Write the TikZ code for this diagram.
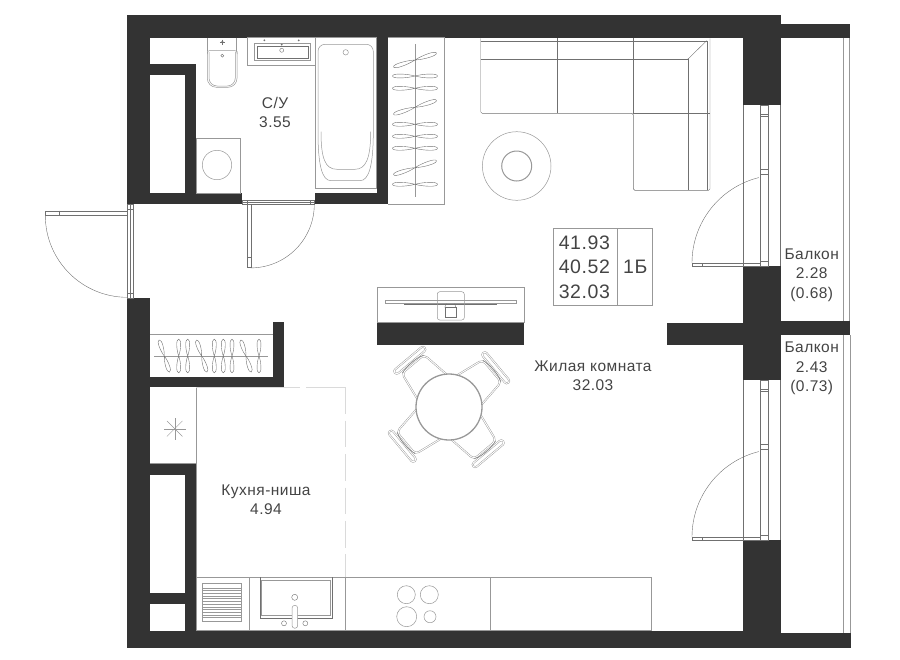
\documentclass[tikz,border=0pt]{standalone}
\usepackage{fontspec}
\setmainfont[LetterSpace=3]{Liberation Sans}
\definecolor{wallc}{HTML}{333333}
\definecolor{inkc}{HTML}{444444}
\definecolor{linec}{HTML}{989898}
\definecolor{darkc}{HTML}{707070}
\definecolor{paler}{HTML}{DADADA}
\tikzset{
    wall/.style={fill=wallc, draw=none},
    thin line/.style={draw=linec, line width=0.5pt},
    dark line/.style={draw=darkc, line width=0.4pt},
    label/.style={text=inkc, align=center, inner sep=0pt, font=\fontsize{15.5}{19.4}\selectfont},
    cell/.style={draw=linec, line width=0.5pt, minimum height=77.4, inner ysep=0pt, text=inkc, font=\fontsize{19.5}{24.4}\selectfont},
    seat/.style={draw=linec, line width=0.45pt, double=white, double distance=0.9pt, rounded corners=4pt},
    hanger/.pic={
        \draw[dark line] (-22.5,0) .. controls (-22.5,-3) and (-8,-2.2) .. (0,0) .. controls (8,2.2) and (22.5,3) .. (22.5,0)
            .. controls (22.5,-3) and (8,-2.2) .. (0,0) .. controls (-8,2.2) and (-22.5,3) .. (-22.5,0);
    }
}
\begin{document}
\begin{tikzpicture}[x=1pt,y=-1pt]
    \useasboundingbox (0,0) rectangle (900,659);
    % walls
    \path[wall] (127.3,14.7) rectangle (781.3,37.5);
    \path[wall] (781.3,24) rectangle (850,38.3);
    \path[wall] (127.3,14.7) rectangle (150,204.3);
    \path[wall] (127.3,297.7) rectangle (150,648.3);
    \path[wall] (127.3,630.7) rectangle (742.7,648.3);
    \path[wall] (742.7,633.3) rectangle (851,648.3);
    \path[wall] (742.7,37) rectangle (781.3,105);
    \path[wall] (742.7,266) rectangle (781.3,380);
    \path[wall] (742.7,540) rectangle (781,640);
    \path[wall] (667,322.7) rectangle (742.7,345.3);
    \path[wall] (781,320.5) rectangle (850,335.3);
    \path[wall] (377.3,322.3) rectangle (524.3,345);
    % inner walls
    \path[wall] (150,63.7) rectangle (196,75);
    \path[wall] (184.7,63.7) rectangle (196,204);
    \path[wall] (150,193) rectangle (242.3,204.3);
    \path[wall] (314.7,193) rectangle (387.7,204.3);
    \path[wall] (376.7,37) rectangle (387.7,204);
    \path[wall] (150,376.7) rectangle (284.3,387.3);
    \path[wall] (273.3,321.7) rectangle (284.3,387.3);
    \path[wall] (150,463.3) rectangle (196,475);
    \path[wall] (184.7,463.3) rectangle (196,631);
    \path[wall] (150,592.7) rectangle (196,604);
    % balcony rails
    \draw[thin line] (843.5,38) -- (843.5,320.5);
    \draw[thin line] (849.5,38) -- (849.5,320.5);
    \draw[thin line] (843.7,335) -- (843.7,633.3);
    \draw[thin line] (850,335) -- (850,633.3);
    % balcony doors
    \foreach \top/\bot in {105/266,380/540} {
        \draw[dark line] (742.7,\top) -- (742.7,\bot);
        \draw[dark line] (780.5,\top) -- (780.5,\bot);
        \draw[dark line] (760.3,\top) rectangle (768.5,\bot);
        \draw[dark line] (760.3,\bot-5) -- (768.5,\bot-5);
        \draw[dark line] (760.3,\top+9) -- (768.5,\top+9);
        \draw[dark line] (760.3,\top+11) -- (768.5,\top+11);
        \draw[dark line] (760.3,\top+64) -- (768.5,\top+64);
        \draw[dark line] (760.3,\top+69.5) -- (768.5,\top+69.5);
        \draw[dark line] (692,\bot-3) rectangle (760.3,\bot);
        \draw[dark line] (701.7,\bot-3) -- (701.7,\bot);
        \draw[dark line] (692,\bot-3) arc[start angle=180,end angle=104,radius=88pt];
    }
    % entry door
    \draw[dark line] (127.5,204.3) rectangle (132.7,297.7);
    \draw[dark line] (130,204.3) -- (130,297.7);
    \draw[dark line] (127.5,292.7) -- (132.7,292.7);
    \draw[dark line] (127.5,209) -- (132.7,209);
    \draw[dark line] (45.3,210.7) rectangle (127.5,215.3);
    \draw[dark line] (58.7,210.7) -- (58.7,215.3);
    \draw[dark line] (45.3,215.3) arc[start angle=180,end angle=270,radius=82pt];
    % bathroom door
    \draw[dark line] (242.5,200) rectangle (314.5,204.3);
    \draw[dark line] (242.5,202) -- (314.5,202);
    \draw[dark line] (247.3,200) -- (247.3,204.3);
    \draw[dark line] (310,200) -- (310,204.3);
    \draw[dark line] (247.3,204.3) rectangle (250.7,267.3);
    \draw[dark line] (247.3,257.3) -- (250.7,257.3);
    \draw[dark line] (314.3,204.3) arc[start angle=0,end angle=-90,radius=63.6pt];
    % bathroom
    \draw[thin line] (315,37.5) rectangle (376.7,188);
    \draw[thin line, rounded corners=7pt] (318,44.3) -- (318,125) .. controls (318,165) and (322,180.7) .. (338,180.7)
        -- (353,180.7) .. controls (369,180.7) and (373.3,165) .. (373.3,125) -- (373.3,44.3) -- cycle;
    \draw[thin line] (321,131.7) .. controls (321,158) and (325,169.3) .. (337,169.3) -- (355,169.3)
        .. controls (366,169.3) and (370.7,158) .. (370.7,131.7);
    \draw[thin line] (345.7,52.3) circle (2.7pt);
    \draw[thin line] (247.3,37.5) rectangle (315,65.7);
    \draw[thin line] (254,43.3) rectangle (310.7,60);
    \draw[dark line] (256.7,46) rectangle (308,58);
    \draw[dark line] (281.7,50.3) circle (2pt);
    \fill[darkc] (264.3,40.3) circle (1pt) (281.7,44.7) circle (1pt) (298.7,40.3) circle (1pt);
    \draw[thin line] (207.3,37.5) -- (207.3,51) (236.7,37.5) -- (236.7,51);
    \draw[thin line, rounded corners=9pt] (207.3,51) -- (207.3,87.3) -- (237,87.3) -- (237,51);
    \draw[thin line, rounded corners=8pt] (209,52) -- (209,86) -- (235.3,86) -- (235.3,52);
    \draw[thin line, rounded corners=2pt] (207.3,54) -- (207.3,50.7) -- (237,50.7) -- (237,54);
    \fill[darkc] (222.3,42) circle (1.3pt);
    \draw[darkc, line width=0.4pt] (219.8,42) -- (224.8,42) (222.3,39.5) -- (222.3,44.5);
    \draw[dark line] (222.3,55.7) circle (1.5pt);
    \draw[thin line] (196,138.3) rectangle (240.3,193);
    \draw[thin line] (217,165) circle (14.7pt);
    % wardrobes
    \draw[thin line] (387.7,37.5) -- (444.3,37.5) -- (444.3,204) -- (387.7,204);
    \draw[thin line] (415,44) -- (415,196.7);
    \foreach \posy/\tilt in {60/18,76/0,88.3/0,107.3/18,124.3/0,136.3/0,148.3/0,167.7/18,184.3/0} {
        \pic[rotate=\tilt] at (415,\posy) {hanger};
    }
    \draw[thin line] (150,334.3) -- (273.3,334.3);
    \draw[thin line] (154.3,356) -- (268.3,356);
    \foreach \posx/\tilt in {164.3/-72,178.7/90,187.7/90,201.7/-72,214.3/90,223.3/90,232/90,246/-72,259/90} {
        \pic[rotate=\tilt,xscale=0.75] at (\posx,356) {hanger};
    }
    % sofa
    \draw[dark line, rounded corners=1.5pt] (480.7,38.3) -- (480.7,113.3) -- (633.3,113.3) -- (633.3,190.3) -- (710,190.3) -- (710,38.3);
    \draw[dark line] (480.7,40.7) -- (706.7,40.7) -- (706.7,190.3);
    \draw[dark line] (480.7,59.3) -- (687.7,59.3) -- (687.7,190.3);
    \draw[dark line] (557.3,38.3) -- (557.3,113.3);
    \draw[dark line] (633.3,38.3) -- (633.3,113.3) -- (710,113.3);
    \draw[dark line] (687.7,59.3) -- (706.7,40.7);
    % pouf
    \draw[thin line] (516.7,166) circle (34.3pt);
    \draw[linec, line width=1pt] (516.7,166) circle (15pt);
    % tv
    \draw[thin line] (377.3,287.3) rectangle (524.3,322.3);
    \draw[thin line] (385.3,300.3) rectangle (516.7,303.7);
    \draw[dark line] (404,303.7) -- (497,303.7);
    \draw[thin line, rounded corners=2.5pt] (437.3,291.7) rectangle (464.3,320);
    \draw[dark line] (444.7,307.3) rectangle (456,317.3);
    \draw[dark line] (446.5,303.7) -- (444.7,307.3) (454.5,303.7) -- (456,307.3);
    % dining
    \foreach \a in {40,130,220,310} {
        \begin{scope}[shift={(449,407)},rotate=\a]
            \draw[seat] (27,-19) -- (56,-14.5) -- (56,14.5) -- (27,19);
            \draw[seat, rounded corners=2.4pt] (58.5,-19.5) rectangle (63.5,19.5);
            \draw[dark line] (56,-14) .. controls (59,-5) and (59,5) .. (56,14);
        \end{scope}
    }
    \draw[linec, line width=1.3pt, fill=white] (449,407) circle (33pt);
    % kitchen
    \draw[thin line] (196,387.3) -- (196,630.7);
    \draw[thin line] (150,463.3) -- (196,463.3);
    \draw[paler, line width=0.7pt] (196,387.3) -- (300,387.3) (306,387.3) -- (345.7,387.3);
    \draw[paler, line width=0.8pt, dash pattern=on 26.7pt off 6.7pt] (345.7,387.3) -- (345.7,577.3);
    \foreach \ang in {0,45,...,315} {
        \draw[linec, line width=0.4pt] (174.7,428.7) -- ++(\ang:11pt);
    }
    \draw[thin line] (196,577.3) rectangle (651.7,630.7);
    \draw[thin line] (249.3,577.3) -- (249.3,630.7);
    \draw[thin line] (345.7,577.3) -- (345.7,630.7);
    \draw[thin line] (490.3,577.3) -- (490.3,630.7);
    \draw[thin line] (202.3,583.3) rectangle (241.3,621.7);
    \foreach \i in {0,...,11} {
        \draw[linec, line width=0.7pt] (202.3,588+\i*2.7) -- (241.3,588+\i*2.7);
    }
    \draw[dark line] (259.7,577.3) -- (259.7,617.7) -- (331.7,617.7) -- (331.7,577.3);
    \draw[thin line] (261.7,580) rectangle (330,615);
    \draw[thin line, rounded corners=2.8pt, fill=white] (292,605.3) rectangle (297.7,628.3);
    \draw[dark line] (294.7,597.3) circle (3pt);
    \draw[dark line] (284,623.3) circle (2.5pt);
    \draw[dark line] (305.3,623.3) circle (2.5pt);
    \draw[thin line] (406.3,594.7) circle (9pt);
    \draw[thin line] (429.3,594.7) circle (9pt);
    \draw[thin line] (406.7,616.7) circle (10pt);
    \draw[thin line] (430,616.7) circle (6pt);
    % labels
    \node[label] (bath) at (275,112.5) {С/У\\3.55};
    \node[label] (kitchen) at (266,499.7) {Кухня-ниша\\4.94};
    \node[label] (room) at (593,376) {Жилая комната\\32.03};
    \node[label] (balcony1) at (811.7,275) {Балкон\\2.28\\(0.68)};
    \node[label] (balcony2) at (811.7,368.3) {Балкон\\2.43\\(0.73)};
    \node[cell, text width=53.4, inner xsep=5.5, align=left] (areas) at (585.5,267) {41.93\\40.52\\32.03};
    \node[cell, minimum width=35, inner xsep=0pt] (flattype) at (635.2,267) {1Б};
\end{tikzpicture}
\end{document}
